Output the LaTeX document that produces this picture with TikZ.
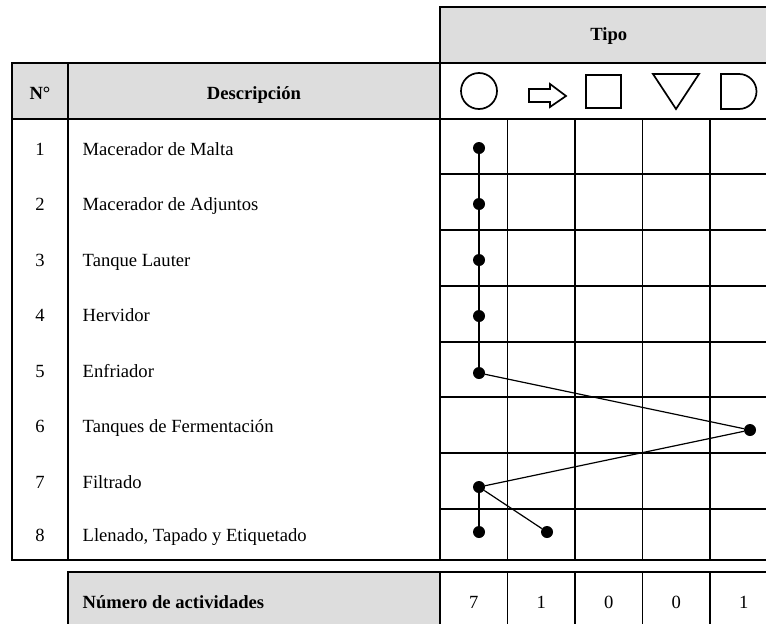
\documentclass[tikz,border=0pt]{standalone}
\usepackage{fontspec}
\setmainfont{Liberation Serif}
\usepackage{tikz}

\definecolor{headgray}{HTML}{DDDDDD}

\begin{document}
\begin{tikzpicture}[x=1pt,y=-1pt,
		frame/.style={rectangle, draw, line width=1.4pt, inner sep=0pt, font=\fontsize{18.6}{22}\selectfont\bfseries},
		txt/.style={inner sep=0pt, font=\fontsize{18.6}{22}\selectfont},
		bold/.style={inner sep=0pt, font=\fontsize{18.6}{22}\selectfont\bfseries},
		sym/.style={line width=1.7pt},
		dot/.style={circle, fill, inner sep=0pt, minimum size=12pt},
		link/.style={line width=1.2pt}]
		
		\useasboundingbox (0,0) rectangle (766,624);
		
		% Frames
		
		\node[frame, fill=headgray, minimum width=337.5, minimum height=56] 
		(tipo) at (608.75,35) {};
		\node[bold, anchor=base] (tipoText) at (608.75,40) {Tipo};
		
		\node[frame, fill=headgray, minimum width=56, minimum height=56] 
		(numHead) at (40,91) {};
		\node[bold, anchor=base] (numText) at (40,99) {N°};
		
		\node[frame, fill=headgray, minimum width=372, minimum height=56] 
		(descHead) at (254,91) {};
		\node[bold, anchor=base] (descText) at (254,99) {Descripción};
		
		\node[frame, minimum width=337.5, minimum height=56] 
		(symHead) at (608.75,91) {};
		
		\node[frame, minimum width=56, minimum height=441] 
		(numCol) at (40,339.5) {};
		
		\node[frame, minimum width=372, minimum height=441] 
		(descCol) at (254,339.5) {};
		
		% Grid
		
		\foreach \x in {440,507.5,575,642.5,710,777.5}
		\draw[line width=1.4pt] (\x,119) -- (\x,560);
		\foreach \y in {119,174,230,286,342,397,453,509,560}
		\draw[line width=1.4pt] (440,\y) -- (777.5,\y);
		
		% Symbols
		
		\node[circle, draw, sym, minimum size=36pt, inner sep=0pt] 
		(opSym) at (479,91) {};
		\draw[sym] (529,89) -- (550,89) -- (550,84) -- (566,96) -- (550,107) -- (550,102) -- (529,102) -- cycle;
		\draw[sym] (586,75) rectangle (621,108);
		\draw[sym] (653,74) -- (699,74) -- (676,109) -- cycle;
		\draw[sym] (739,74) -- (721,74) -- (721,109) -- (739,109) arc[start angle=90, end angle=-90, radius=17.5];
		
		% Rows
		
		\node[txt, anchor=base] (n1) at (40,155) {1};
		\node[txt, anchor=base west] (t1) at (82.5,155) {Macerador de Malta};
		
		\node[txt, anchor=base] (n2) at (40,210.5) {2};
		\node[txt, anchor=base west] (t2) at (82.5,210.5) {Macerador de Adjuntos};
		
		\node[txt, anchor=base] (n3) at (40,266) {3};
		\node[txt, anchor=base west] (t3) at (82.5,266) {Tanque Lauter};
		
		\node[txt, anchor=base] (n4) at (40,321) {4};
		\node[txt, anchor=base west] (t4) at (82.5,321) {Hervidor};
		
		\node[txt, anchor=base] (n5) at (40,377) {5};
		\node[txt, anchor=base west] (t5) at (82.5,377) {Enfriador};
		
		\node[txt, anchor=base] (n6) at (40,432) {6};
		\node[txt, anchor=base west] (t6) at (82.5,432) {Tanques de Fermentación};
		
		\node[txt, anchor=base] (n7) at (40,488) {7};
		\node[txt, anchor=base west] (t7) at (82.5,488) {Filtrado};
		
		\node[txt, anchor=base] (n8) at (40,541) {8};
		\node[txt, anchor=base west] (t8) at (82.5,541) {Llenado, Tapado y Etiquetado};
		
		% Dots
		
		\node[dot] (d1) at (479,148) {};
		\node[dot] (d2) at (479,204) {};
		\node[dot] (d3) at (479,260) {};
		\node[dot] (d4) at (479,316) {};
		\node[dot] (d5) at (479,373) {};
		\node[dot] (d6) at (750,430) {};
		\node[dot] (d7) at (479,487) {};
		\node[dot] (d8) at (479,532) {};
		\node[dot] (d9) at (547,532) {};
		
		\draw[link] (d1) -- (d2);
		\draw[link] (d2) -- (d3);
		\draw[link] (d3) -- (d4);
		\draw[link] (d4) -- (d5);
		\draw[link] (d5) -- (d6);
		\draw[link] (d6) -- (d7);
		\draw[link] (d7) -- (d8);
		\draw[link] (d7) -- (d9);
		
		% Totals
		
		\node[frame, fill=headgray, minimum width=372, minimum height=60] 
		(totalHead) at (254,602) {};
		\node[bold, anchor=base west] (totalText) at (82.5,608) {Número de actividades};
		
		\node[frame, minimum width=67.5, minimum height=60, font=\fontsize{18.6}{22}\selectfont] 
		(tot1) at (473.75,602) {7};
		\node[frame, minimum width=67.5, minimum height=60, font=\fontsize{18.6}{22}\selectfont] 
		(tot2) at (541.25,602) {1};
		\node[frame, minimum width=67.5, minimum height=60, font=\fontsize{18.6}{22}\selectfont] 
		(tot3) at (608.75,602) {0};
		\node[frame, minimum width=67.5, minimum height=60, font=\fontsize{18.6}{22}\selectfont] 
		(tot4) at (676.25,602) {0};
		\node[frame, minimum width=67.5, minimum height=60, font=\fontsize{18.6}{22}\selectfont] 
		(tot5) at (743.75,602) {1};
		
\end{tikzpicture}
\end{document}
